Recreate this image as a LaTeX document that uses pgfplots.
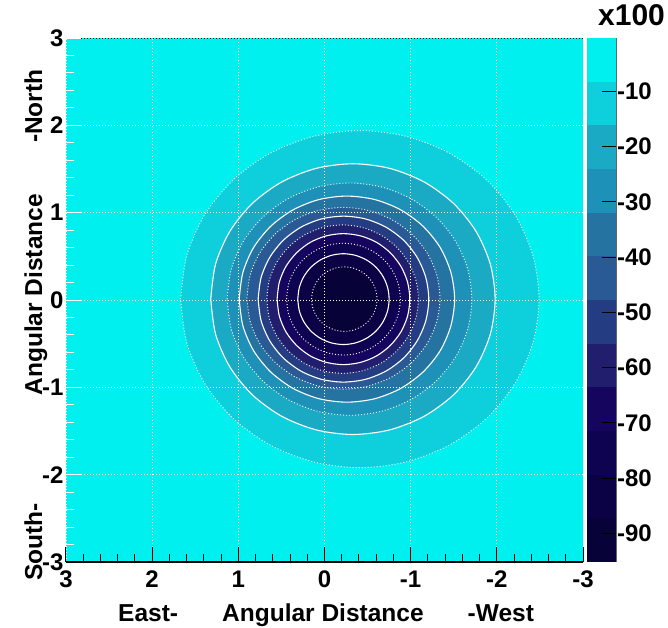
\documentclass[border=0pt]{standalone}
\usepackage{fontspec}
\setmainfont{Liberation Sans}
\usepackage{pgfplots}
\pgfplotsset{compat=1.18}
\definecolor{b1}{RGB}{0,240,240}
\definecolor{b2}{RGB}{14,208,220}
\definecolor{b3}{RGB}{26,170,196}
\definecolor{b4}{RGB}{30,145,185}
\definecolor{b5}{RGB}{37,115,160}
\definecolor{b6}{RGB}{42,90,150}
\definecolor{b7}{RGB}{36,60,130}
\definecolor{b8}{RGB}{34,30,110}
\definecolor{b9}{RGB}{22,5,95}
\definecolor{b10}{RGB}{14,3,80}
\definecolor{b11}{RGB}{10,2,68}
\definecolor{b12}{RGB}{7,2,55}
\newcommand{\lab}{\fontsize{24.5}{28}\selectfont\bfseries}
\newcommand{\tlab}{\fontsize{24}{27}\selectfont\bfseries}
\tikzset{cdot/.style={draw=white, line width=0.9pt, dash pattern=on 1pt off 2pt, smooth},
         csol/.style={draw=white, line width=1.1pt, solid, smooth}}
\begin{document}
\begin{tikzpicture}
\path[use as bounding box] (0,0) rectangle (668pt,627pt);
\begin{axis}[
  at={(66pt,65pt)}, anchor=south west,
  scale only axis, width=517pt, height=524pt,
  xmin=-3, xmax=3, ymin=-3, ymax=3, x dir=reverse,
  enlargelimits=false,
  axis on top,
  clip=false,
  axis background/.style={fill=b1},
  axis x line*=bottom, axis y line*=left,
  x axis line style={black, line width=1.2pt, -},
  y axis line style={draw=none, -},
  xtick={-3,-2,-1,0,1,2,3}, ytick={-3,-2,-1,0,1,2,3},
  xticklabels={-3,-2,-1,0,1,2,3}, yticklabels={-3,-2,-1,0,1,2,3},
  minor tick num=4,
  tick align=inside,
  major tick length=15pt, minor tick length=8pt,
  xtick style={black, line width=1pt},
  ytick style={white, line width=1pt},
  grid=major,
  grid style={white, line width=0.8pt, dash pattern=on 1pt off 2pt},
  ticklabel style={font=\tlab},
  xticklabel style={yshift=-5pt},
  yticklabel style={xshift=1pt},
  extra y ticks={3}, extra y tick labels={},
  extra y tick style={grid style={black, line width=0.8pt, dash pattern=on 1pt off 2pt}},
]
% contour 1 (outermost), band 2 inside
\addplot[fill=b2, cdot] coordinates {(1.67,0.01) (1.599,0.509) (1.391,0.975) (1.061,1.375) (0.63,1.681) (0.128,1.874) (-0.41,1.94) (-0.948,1.874) (-1.45,1.681) (-1.881,1.375) (-2.211,0.975) (-2.419,0.509) (-2.49,0.01) (-2.419,-0.489) (-2.211,-0.955) (-1.881,-1.355) (-1.45,-1.661) (-0.948,-1.854) (-0.41,-1.92) (0.128,-1.854) (0.63,-1.661) (1.061,-1.355) (1.391,-0.955) (1.599,-0.489) (1.67,0.01)};
% contour 2
\addplot[fill=b3, csol] coordinates {(1.32,0.01) (1.264,0.411) (1.099,0.785) (0.837,1.106) (0.495,1.352) (0.097,1.507) (-0.33,1.56) (-0.757,1.507) (-1.155,1.352) (-1.497,1.106) (-1.759,0.785) (-1.924,0.411) (-1.98,0.01) (-1.924,-0.391) (-1.759,-0.765) (-1.497,-1.086) (-1.155,-1.332) (-0.757,-1.487) (-0.33,-1.54) (0.097,-1.487) (0.495,-1.332) (0.837,-1.086) (1.099,-0.765) (1.264,-0.391) (1.32,0.01)};
% contour 3
\addplot[fill=b4, cdot] coordinates {(1.13,0.01) (1.082,0.354) (0.94,0.675) (0.714,0.95) (0.42,1.162) (0.077,1.295) (-0.29,1.34) (-0.657,1.295) (-1.0,1.162) (-1.294,0.95) (-1.52,0.675) (-1.662,0.354) (-1.71,0.01) (-1.662,-0.334) (-1.52,-0.655) (-1.294,-0.93) (-1.0,-1.142) (-0.657,-1.275) (-0.29,-1.32) (0.077,-1.275) (0.42,-1.142) (0.714,-0.93) (0.94,-0.655) (1.082,-0.334) (1.13,0.01)};
% contour 4
\addplot[fill=b5, csol] coordinates {(0.99,0.01) (0.947,0.315) (0.823,0.6) (0.624,0.844) (0.365,1.032) (0.064,1.15) (-0.26,1.19) (-0.584,1.15) (-0.885,1.032) (-1.144,0.844) (-1.343,0.6) (-1.467,0.315) (-1.51,0.01) (-1.467,-0.295) (-1.343,-0.58) (-1.144,-0.824) (-0.885,-1.012) (-0.584,-1.13) (-0.26,-1.17) (0.064,-1.13) (0.365,-1.012) (0.624,-0.824) (0.823,-0.58) (0.947,-0.295) (0.99,0.01)};
% contour 5
\addplot[fill=b6, cdot] coordinates {(0.9,0.02) (0.862,0.289) (0.75,0.54) (0.572,0.755) (0.34,0.921) (0.07,1.025) (-0.22,1.06) (-0.51,1.025) (-0.78,0.921) (-1.012,0.755) (-1.19,0.54) (-1.302,0.289) (-1.34,0.02) (-1.302,-0.249) (-1.19,-0.5) (-1.012,-0.715) (-0.78,-0.881) (-0.51,-0.985) (-0.22,-1.02) (0.07,-0.985) (0.34,-0.881) (0.572,-0.715) (0.75,-0.5) (0.862,-0.249) (0.9,0.02)};
% contour 6
\addplot[fill=b7, csol] coordinates {(0.77,0.01) (0.736,0.256) (0.637,0.485) (0.48,0.682) (0.275,0.833) (0.036,0.928) (-0.22,0.96) (-0.476,0.928) (-0.715,0.833) (-0.92,0.682) (-1.077,0.485) (-1.176,0.256) (-1.21,0.01) (-1.176,-0.236) (-1.077,-0.465) (-0.92,-0.662) (-0.715,-0.813) (-0.476,-0.908) (-0.22,-0.94) (0.036,-0.908) (0.275,-0.813) (0.48,-0.662) (0.637,-0.465) (0.736,-0.236) (0.77,0.01)};
% contour 7
\addplot[fill=b8, cdot] coordinates {(0.67,0.01) (0.64,0.23) (0.552,0.435) (0.412,0.611) (0.23,0.746) (0.018,0.831) (-0.21,0.86) (-0.438,0.831) (-0.65,0.746) (-0.832,0.611) (-0.972,0.435) (-1.06,0.23) (-1.09,0.01) (-1.06,-0.21) (-0.972,-0.415) (-0.832,-0.591) (-0.65,-0.726) (-0.438,-0.811) (-0.21,-0.84) (0.018,-0.811) (0.23,-0.726) (0.412,-0.591) (0.552,-0.415) (0.64,-0.21) (0.67,0.01)};
% contour 8
\addplot[fill=b9, csol] coordinates {(0.55,0.01) (0.524,0.204) (0.447,0.385) (0.324,0.54) (0.165,0.66) (-0.021,0.734) (-0.22,0.76) (-0.419,0.734) (-0.605,0.66) (-0.764,0.54) (-0.887,0.385) (-0.964,0.204) (-0.99,0.01) (-0.964,-0.184) (-0.887,-0.365) (-0.764,-0.52) (-0.605,-0.64) (-0.419,-0.714) (-0.22,-0.74) (-0.021,-0.714) (0.165,-0.64) (0.324,-0.52) (0.447,-0.365) (0.524,-0.184) (0.55,0.01)};
% contour 9
\addplot[fill=b10, cdot] coordinates {(0.44,0.01) (0.418,0.176) (0.352,0.33) (0.247,0.463) (0.11,0.564) (-0.049,0.628) (-0.22,0.65) (-0.391,0.628) (-0.55,0.564) (-0.687,0.463) (-0.792,0.33) (-0.858,0.176) (-0.88,0.01) (-0.858,-0.156) (-0.792,-0.31) (-0.687,-0.443) (-0.55,-0.544) (-0.391,-0.608) (-0.22,-0.63) (-0.049,-0.608) (0.11,-0.544) (0.247,-0.443) (0.352,-0.31) (0.418,-0.156) (0.44,0.01)};
% contour 10
\addplot[fill=b11, csol] coordinates {(0.31,0.01) (0.292,0.145) (0.239,0.27) (0.155,0.378) (0.045,0.46) (-0.083,0.512) (-0.22,0.53) (-0.357,0.512) (-0.485,0.46) (-0.595,0.378) (-0.679,0.27) (-0.732,0.145) (-0.75,0.01) (-0.732,-0.125) (-0.679,-0.25) (-0.595,-0.358) (-0.485,-0.44) (-0.357,-0.492) (-0.22,-0.51) (-0.083,-0.492) (0.045,-0.44) (0.155,-0.358) (0.239,-0.25) (0.292,-0.125) (0.31,0.01)};
% contour 11 (innermost)
\addplot[fill=b12, cdot] coordinates {(0.15,0.01) (0.137,0.106) (0.099,0.195) (0.039,0.272) (-0.04,0.33) (-0.132,0.367) (-0.23,0.38) (-0.328,0.367) (-0.42,0.33) (-0.499,0.272) (-0.559,0.195) (-0.597,0.106) (-0.61,0.01) (-0.597,-0.086) (-0.559,-0.175) (-0.499,-0.252) (-0.42,-0.31) (-0.328,-0.347) (-0.23,-0.36) (-0.132,-0.347) (-0.04,-0.31) (0.039,-0.252) (0.099,-0.175) (0.137,-0.086) (0.15,0.01)};
% axis labels
\node[font=\lab, anchor=base] at (axis description cs:0.159,-0.1126) {East-};
\node[font=\lab, anchor=base] at (axis description cs:0.497,-0.1126) {Angular Distance};
\node[font=\lab, anchor=base] at (axis description cs:0.841,-0.1126) {-West};
\node[font=\lab, anchor=base, rotate=90] at (axis description cs:-0.0464,0.870) {-North};
\node[font=\lab, anchor=base, rotate=90] at (axis description cs:-0.0464,0.510) {Angular Distance};
\node[font=\lab, anchor=base, rotate=90] at (axis description cs:-0.0464,0.038) {South-};
\end{axis}
% colour bar
\begin{axis}[
  at={(587pt,65pt)}, anchor=south west,
  scale only axis, width=29.5pt, height=524pt,
  xmin=0, xmax=1, ymin=-95.17, ymax=-0.37,
  enlargelimits=false,
  axis on top,
  axis x line=none, axis y line*=right,
  y axis line style={draw=black!60, line width=1.2pt, -},
  ytick={-90,-80,-70,-60,-50,-40,-30,-20,-10},
  yticklabels={-90,-80,-70,-60,-50,-40,-30,-20,-10},
  tick align=inside, major tick length=15pt,
  ytick style={black, line width=1pt},
  yticklabel pos=right,
  yticklabel style={font=\tlab, xshift=-3pt},
  clip=false,
]
\addplot[fill=b12, draw=none] coordinates {(0,-95.17) (1,-95.17) (1,-87.27) (0,-87.27)} -- cycle;
\addplot[fill=b11, draw=none] coordinates {(0,-87.27) (1,-87.27) (1,-79.37) (0,-79.37)} -- cycle;
\addplot[fill=b10, draw=none] coordinates {(0,-79.37) (1,-79.37) (1,-71.47) (0,-71.47)} -- cycle;
\addplot[fill=b9, draw=none] coordinates {(0,-71.47) (1,-71.47) (1,-63.57) (0,-63.57)} -- cycle;
\addplot[fill=b8, draw=none] coordinates {(0,-63.57) (1,-63.57) (1,-55.67) (0,-55.67)} -- cycle;
\addplot[fill=b7, draw=none] coordinates {(0,-55.67) (1,-55.67) (1,-47.77) (0,-47.77)} -- cycle;
\addplot[fill=b6, draw=none] coordinates {(0,-47.77) (1,-47.77) (1,-39.87) (0,-39.87)} -- cycle;
\addplot[fill=b5, draw=none] coordinates {(0,-39.87) (1,-39.87) (1,-31.97) (0,-31.97)} -- cycle;
\addplot[fill=b4, draw=none] coordinates {(0,-31.97) (1,-31.97) (1,-24.07) (0,-24.07)} -- cycle;
\addplot[fill=b3, draw=none] coordinates {(0,-24.07) (1,-24.07) (1,-16.17) (0,-16.17)} -- cycle;
\addplot[fill=b2, draw=none] coordinates {(0,-16.17) (1,-16.17) (1,-8.27) (0,-8.27)} -- cycle;
\addplot[fill=b1, draw=none] coordinates {(0,-8.27) (1,-8.27) (1,-0.37) (0,-0.37)} -- cycle;
\node[font=\fontsize{30}{34}\selectfont\bfseries] at (axis description cs:1.51,1.043) {x100};
\end{axis}
\end{tikzpicture}
\end{document}
